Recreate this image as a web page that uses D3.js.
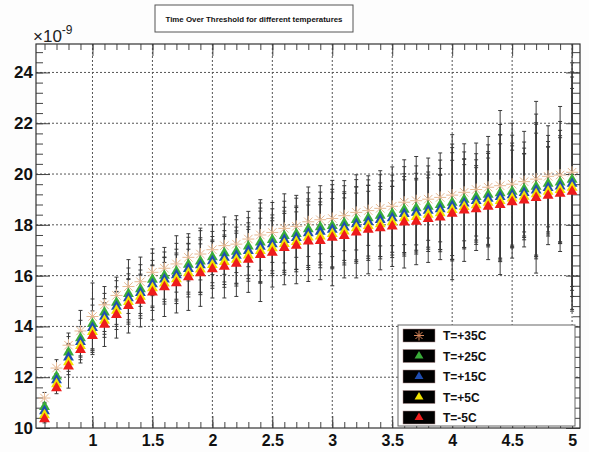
<!DOCTYPE html>
<html>
<head>
<meta charset="utf-8">
<script src="https://cdnjs.cloudflare.com/ajax/libs/d3/7.8.5/d3.min.js"></script>
<style>
  body { margin: 0; background: #fff; }
  svg { font-family: "Liberation Sans", Arial, sans-serif; }
</style>
</head>
<body>
<div id="chart"></div>
<script>
// Chart values (units of 1e-9)
var xVals = [0.6, 0.7, 0.8, 0.9, 1.0, 1.1, 1.2, 1.3, 1.4,
             1.5, 1.6, 1.7, 1.8, 1.9, 2.0, 2.1, 2.2, 2.3,
             2.4, 2.5, 2.6, 2.7, 2.8, 2.9, 3.0, 3.1, 3.2,
             3.3, 3.4, 3.5, 3.6, 3.7, 3.8, 3.9, 4.0, 4.1,
             4.2, 4.3, 4.4, 4.5, 4.6, 4.7, 4.8, 4.9, 5.0];

var totP35 = [11.18, 12.36, 13.26, 13.82, 14.39, 14.85, 15.22, 15.57, 15.76,
              16.13, 16.29, 16.46, 16.72, 16.85, 17.02, 17.18, 17.24, 17.44,
              17.60, 17.70, 17.86, 17.94, 18.12, 18.20, 18.25, 18.36, 18.49,
              18.56, 18.65, 18.73, 18.89, 18.95, 19.01, 19.08, 19.17, 19.28,
              19.39, 19.48, 19.54, 19.60, 19.70, 19.80, 19.91, 19.96, 20.07];
var totP25 = [10.83, 12.03, 12.98, 13.54, 14.10, 14.55, 14.94, 15.28, 15.47,
              15.84, 16.00, 16.17, 16.43, 16.56, 16.73, 16.89, 16.95, 17.15,
              17.31, 17.41, 17.57, 17.65, 17.83, 17.91, 17.96, 18.07, 18.20,
              18.27, 18.36, 18.44, 18.60, 18.66, 18.72, 18.79, 18.88, 18.99,
              19.10, 19.19, 19.25, 19.31, 19.41, 19.51, 19.62, 19.67, 19.78];
var totP15 = [10.67, 11.89, 12.78, 13.39, 13.94, 14.39, 14.78, 15.12, 15.32,
              15.67, 15.85, 16.02, 16.27, 16.41, 16.57, 16.71, 16.79, 16.98,
              17.14, 17.24, 17.41, 17.49, 17.67, 17.73, 17.81, 17.90, 18.03,
              18.12, 18.20, 18.27, 18.43, 18.48, 18.56, 18.62, 18.74, 18.85,
              18.94, 19.03, 19.10, 19.17, 19.26, 19.36, 19.46, 19.52, 19.62];
var totP5 = [10.51, 11.73, 12.60, 13.24, 13.79, 14.23, 14.62, 14.97, 15.17,
             15.51, 15.70, 15.86, 16.10, 16.25, 16.42, 16.54, 16.63, 16.80,
             16.98, 17.08, 17.25, 17.33, 17.51, 17.55, 17.65, 17.74, 17.87,
             17.96, 18.03, 18.11, 18.27, 18.31, 18.40, 18.46, 18.59, 18.71,
             18.78, 18.88, 18.94, 19.04, 19.11, 19.21, 19.31, 19.38, 19.47];
var totM5 = [10.35, 11.57, 12.43, 13.08, 13.63, 14.07, 14.46, 14.81, 15.02,
             15.34, 15.55, 15.71, 15.94, 16.10, 16.26, 16.36, 16.47, 16.63,
             16.82, 16.91, 17.09, 17.18, 17.35, 17.37, 17.50, 17.57, 17.70,
             17.81, 17.87, 17.94, 18.10, 18.13, 18.24, 18.29, 18.44, 18.57,
             18.62, 18.72, 18.79, 18.90, 18.96, 19.06, 19.15, 19.23, 19.31];

var errP35 = [0.22, 0.33, 0.48, 0.81, 1.32, 0.72, 0.72, 1.06, 0.97,
              0.92, 0.82, 1.11, 0.93, 1.02, 0.98, 1.13, 1.12, 1.09,
              1.39, 1.18, 1.36, 1.22, 1.37, 1.34, 1.50, 1.38, 1.48,
              1.37, 1.48, 1.55, 1.67, 1.74, 1.62, 1.75, 2.38, 1.91,
              1.83, 2.00, 2.96, 2.40, 1.98, 3.06, 1.99, 2.70, 5.40];
var errP25 = [0.18, 0.27, 0.62, 0.70, 0.98, 0.75, 0.86, 1.02, 0.96,
              1.04, 0.93, 1.10, 1.08, 1.21, 1.01, 1.14, 1.25, 1.13,
              1.55, 1.22, 1.36, 1.40, 1.43, 1.38, 1.62, 1.47, 1.58,
              1.50, 1.61, 1.52, 1.69, 1.66, 1.60, 1.76, 2.30, 1.88,
              1.70, 1.96, 2.70, 2.22, 1.85, 2.85, 1.90, 2.40, 4.60];
var errP15 = [0.16, 0.25, 0.55, 0.60, 0.90, 0.70, 0.78, 0.95, 0.90,
              0.93, 0.88, 1.02, 1.00, 1.08, 0.97, 1.06, 1.12, 1.10,
              1.40, 1.15, 1.28, 1.25, 1.35, 1.31, 1.48, 1.40, 1.47,
              1.44, 1.45, 1.46, 1.58, 1.55, 1.52, 1.60, 2.10, 1.75,
              1.62, 1.85, 2.45, 2.05, 1.76, 2.60, 1.82, 2.20, 4.20];
var errP5 = [0.14, 0.22, 0.50, 0.55, 0.82, 0.66, 0.74, 0.88, 0.85,
             0.88, 0.82, 0.96, 0.94, 1.00, 0.92, 1.00, 1.04, 1.02,
             1.28, 1.08, 1.20, 1.18, 1.27, 1.24, 1.38, 1.32, 1.38,
             1.36, 1.37, 1.40, 1.50, 1.46, 1.45, 1.52, 1.95, 1.66,
             1.55, 1.75, 2.25, 1.90, 1.70, 2.40, 1.75, 2.05, 3.90];
var errM5 = [0.15, 0.22, 0.86, 0.52, 0.74, 0.86, 0.92, 1.07, 1.04,
             1.08, 1.16, 1.18, 1.31, 1.31, 1.14, 1.24, 1.29, 1.29,
             1.84, 1.36, 1.45, 1.50, 1.58, 1.53, 1.90, 1.66, 1.79,
             1.74, 1.64, 1.58, 1.80, 1.70, 1.72, 1.66, 2.60, 2.01,
             1.63, 2.09, 2.75, 2.21, 1.83, 2.96, 1.93, 2.28, 4.71];

var seriesLabels = ["T=+35C", "T=+25C", "T=+15C", "T=+5C", "T=-5C"];
var xTickValues = [1, 1.5, 2, 2.5, 3, 3.5, 4, 4.5, 5];
var yTickValues = [10, 12, 14, 16, 18, 20, 22, 24];
var titleText = "Time Over Threshold for different temperatures";

var svgWidth = 589;
var svgHeight = 452;
var margin = { top: 44, right: 9, bottom: 24, left: 36 };
var width = svgWidth - margin.left - margin.right;
var height = svgHeight - margin.top - margin.bottom;

var colors = ["#e6b892", "#3aad3a", "#1f4db2", "#f1e300", "#ee1c1c"];
var valueArrays = [totP35, totP25, totP15, totP5, totM5];
var errArrays = [errP35, errP25, errP15, errP5, errM5];

var series = seriesLabels.map(function(lab, i) {
    return {
        label: lab,
        color: colors[i],
        star: i === 0,
        points: xVals.map(function(x, j) {
            return { x: x, y: valueArrays[i][j], e: errArrays[i][j] };
        })
    };
});

var svg = d3.select("#chart")
    .append("svg")
    .attr("width", svgWidth)
    .attr("height", svgHeight);

svg.append("rect")
    .attr("width", svgWidth).attr("height", svgHeight)
    .attr("fill", "#fdfdfd");

var chartGroup = svg.append("g")
    .attr("transform", `translate(${margin.left}, ${margin.top})`);

var xScale = d3.scaleLinear().domain([0.529, 5.066]).range([0, width]);
var yScale = d3.scaleLinear().domain([10, 25.12]).range([height, 0]);

chartGroup.append("rect")
    .attr("width", width).attr("height", height)
    .attr("fill", "#fff");

// dotted grid
chartGroup.append("g")
    .selectAll("line.gx")
    .data(xTickValues)
    .enter().append("line")
    .attr("x1", d => xScale(d)).attr("x2", d => xScale(d))
    .attr("y1", 0).attr("y2", height)
    .attr("stroke", "#555").attr("stroke-width", 1)
    .attr("stroke-dasharray", "2,2");
chartGroup.append("g")
    .selectAll("line.gy")
    .data(yTickValues.slice(1))
    .enter().append("line")
    .attr("x1", 0).attr("x2", width)
    .attr("y1", d => yScale(d)).attr("y2", d => yScale(d))
    .attr("stroke", "#555").attr("stroke-width", 1)
    .attr("stroke-dasharray", "2,2");

// axes: ticks pointing inward on all four sides
var xMinor = d3.range(0.6, 5.05, 0.1).map(d => +d.toFixed(1));
var yMinor = d3.range(10, 25.1, 0.4).map(d => +d.toFixed(1));

function styleAxis(g) {
    g.select(".domain").remove();
    g.selectAll("line").attr("stroke", "#444");
}

chartGroup.append("g")
    .attr("transform", `translate(0, ${height})`)
    .call(d3.axisBottom(xScale).tickValues(xMinor).tickSize(-6).tickFormat(""))
    .call(styleAxis);
chartGroup.append("g")
    .attr("transform", `translate(0, ${height})`)
    .call(d3.axisBottom(xScale).tickValues(xTickValues).tickSize(-12).tickPadding(7)
        .tickFormat(d3.format("")))
    .call(styleAxis)
    .selectAll("text")
    .style("font-size", "16px").style("font-weight", "bold").attr("fill", "#111");

chartGroup.append("g")
    .call(d3.axisTop(xScale).tickValues(xMinor).tickSize(-6).tickFormat(""))
    .call(styleAxis);
chartGroup.append("g")
    .call(d3.axisTop(xScale).tickValues(xTickValues).tickSize(-12).tickFormat(""))
    .call(styleAxis);

chartGroup.append("g")
    .call(d3.axisLeft(yScale).tickValues(yMinor).tickSize(-7).tickFormat(""))
    .call(styleAxis);
chartGroup.append("g")
    .call(d3.axisLeft(yScale).tickValues(yTickValues).tickSize(-14).tickPadding(3)
        .tickFormat(d3.format("d")))
    .call(styleAxis)
    .selectAll("text")
    .style("font-size", "17px").style("font-weight", "bold").attr("fill", "#111");

chartGroup.append("g")
    .attr("transform", `translate(${width}, 0)`)
    .call(d3.axisRight(yScale).tickValues(yMinor).tickSize(-7).tickFormat(""))
    .call(styleAxis);
chartGroup.append("g")
    .attr("transform", `translate(${width}, 0)`)
    .call(d3.axisRight(yScale).tickValues(yTickValues).tickSize(-14).tickFormat(""))
    .call(styleAxis);

// frame
chartGroup.append("rect")
    .attr("width", width).attr("height", height)
    .attr("fill", "none").attr("stroke", "#333").attr("stroke-width", 1.2);

// clip
chartGroup.append("clipPath").attr("id", "plotClip")
    .append("rect").attr("width", width).attr("height", height);

var dataGroup = chartGroup.append("g").attr("clip-path", "url(#plotClip)");

// error bars (all series, dark with small caps)
series.forEach(function(s) {
    var eb = dataGroup.append("g").attr("stroke", "#3a3a3a").attr("stroke-width", 1);
    eb.selectAll("line.bar")
        .data(s.points).enter().append("line")
        .attr("x1", d => xScale(d.x)).attr("x2", d => xScale(d.x))
        .attr("y1", d => yScale(d.y - d.e)).attr("y2", d => yScale(d.y + d.e));
    eb.selectAll("line.capTop")
        .data(s.points).enter().append("line")
        .attr("x1", d => xScale(d.x) - 2).attr("x2", d => xScale(d.x) + 2)
        .attr("y1", d => yScale(d.y + d.e)).attr("y2", d => yScale(d.y + d.e));
    eb.selectAll("line.capBot")
        .data(s.points).enter().append("line")
        .attr("x1", d => xScale(d.x) - 2).attr("x2", d => xScale(d.x) + 2)
        .attr("y1", d => yScale(d.y - d.e)).attr("y2", d => yScale(d.y - d.e));
});

function starPath(r) {
    var p = d3.path();
    for (var k = 0; k < 4; k++) {
        var a = k * Math.PI / 4;
        p.moveTo(-r * Math.cos(a), -r * Math.sin(a));
        p.lineTo(r * Math.cos(a), r * Math.sin(a));
    }
    return p.toString();
}
var triPath = d3.symbol().type(d3.symbolTriangle).size(52)();

// markers: star first, red last (on top)
series.forEach(function(s) {
    var m = dataGroup.append("g");
    if (s.star) {
        m.selectAll("path")
            .data(s.points).enter().append("path")
            .attr("d", starPath(6))
            .attr("transform", d => `translate(${xScale(d.x)}, ${yScale(d.y)})`)
            .attr("fill", "none").attr("stroke", s.color).attr("stroke-width", 1);
    } else {
        m.selectAll("path")
            .data(s.points).enter().append("path")
            .attr("d", triPath)
            .attr("transform", d => `translate(${xScale(d.x)}, ${yScale(d.y)})`)
            .attr("fill", s.color);
    }
});

// exponent label
var expText = svg.append("text")
    .attr("x", 33).attr("y", 42)
    .style("font-size", "17px").attr("fill", "#222");
expText.append("tspan").text("\u00d710");
expText.append("tspan").attr("dy", -8).style("font-size", "12px").text("-9");

// title box
svg.append("rect")
    .attr("x", 155).attr("y", 5).attr("width", 198).attr("height", 27)
    .attr("fill", "#fff").attr("stroke", "#555").attr("stroke-width", 1);
svg.append("text")
    .attr("x", 254).attr("y", 21.5)
    .attr("text-anchor", "middle")
    .attr("textLength", 177).attr("lengthAdjust", "spacingAndGlyphs")
    .style("font-size", "8px").style("font-weight", "bold").attr("fill", "#111")
    .text(titleText);

// legend
var legend = svg.append("g");
legend.append("rect")
    .attr("x", 398).attr("y", 325).attr("width", 177).attr("height", 101)
    .attr("fill", "#fff").attr("stroke", "#666").attr("stroke-width", 1);
var rows = legend.selectAll("g.row")
    .data(series).enter().append("g")
    .attr("transform", (d, i) => `translate(0, ${335.5 + i * 20.5})`);
rows.append("rect")
    .attr("x", 403).attr("y", -6.5).attr("width", 32).attr("height", 13)
    .attr("fill", "#000").attr("stroke", "#a88").attr("stroke-width", 0.5);
rows.append("path")
    .attr("d", d => d.star ? starPath(5) : d3.symbol().type(d3.symbolTriangle).size(34)())
    .attr("transform", "translate(419, 0)")
    .attr("fill", d => d.star ? "none" : d.color)
    .attr("stroke", d => d.star ? "#d8885c" : "none");
rows.append("text")
    .attr("x", 443).attr("y", 4.5)
    .style("font-size", "12px").style("font-weight", "bold").attr("fill", "#111")
    .text(d => d.label);
</script>
</body>
</html>
